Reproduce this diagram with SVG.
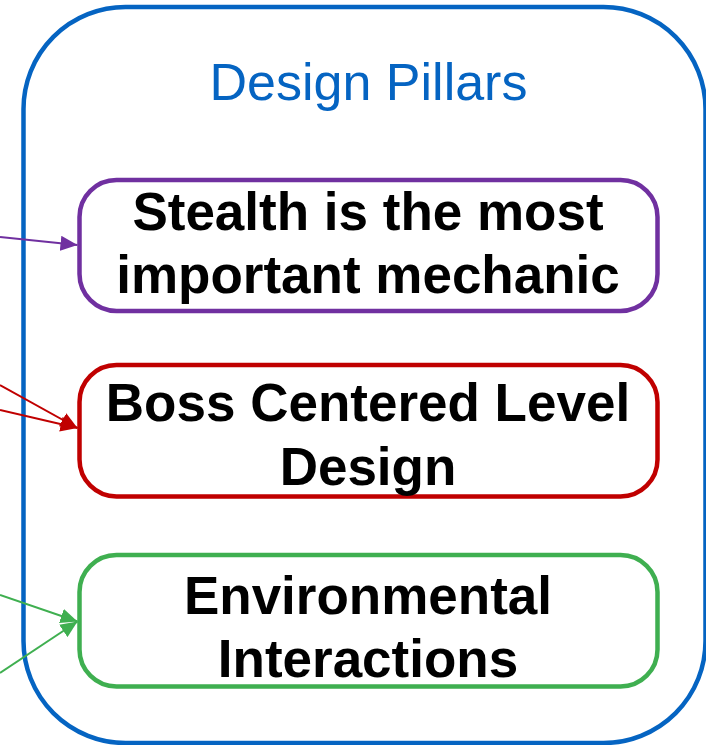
<svg xmlns="http://www.w3.org/2000/svg" width="706" height="745" viewBox="0 0 706 745">
  <style>
    .frame { fill: none; stroke: #0564C2; stroke-width: 4.5; }
    .title { font-family: "Liberation Sans", Arial, sans-serif; font-size: 52px; fill: #0564C2; text-anchor: middle; }
    .box { fill: #FFFFFF; stroke-width: 4.5; }
    .label { font-family: "Liberation Sans", Arial, sans-serif; font-size: 53px; font-weight: bold; fill: #000000; text-anchor: middle; }
    .link { fill: none; stroke-width: 2; }
  </style>
  <defs>
    <marker id="head-purple" markerUnits="userSpaceOnUse" markerWidth="17" markerHeight="15" refX="17" refY="7.5" orient="auto">
      <path d="M0,0 L17,7.5 L0,15 z" fill="#7030A0"/>
    </marker>
    <marker id="head-red" markerUnits="userSpaceOnUse" markerWidth="17" markerHeight="15" refX="17" refY="7.5" orient="auto">
      <path d="M0,0 L17,7.5 L0,15 z" fill="#C00000"/>
    </marker>
    <marker id="head-green" markerUnits="userSpaceOnUse" markerWidth="17" markerHeight="15" refX="17" refY="7.5" orient="auto">
      <path d="M0,0 L17,7.5 L0,15 z" fill="#3FAF50"/>
    </marker>
  </defs>

  <rect width="706" height="745" fill="#FFFFFF"/>

  <!-- container -->
  <g id="design-pillars">
    <rect class="frame" x="23.5" y="7" width="682" height="736" rx="102" ry="102"/>
    <text class="title" x="368.5" y="100">Design Pillars</text>
  </g>

  <!-- incoming connectors -->
  <g id="connectors">
    <line class="link" stroke="#7030A0" x1="0" y1="237" x2="77.5" y2="245" marker-end="url(#head-purple)"/>
    <line class="link" stroke="#C00000" x1="0" y1="385" x2="77.5" y2="428" marker-end="url(#head-red)"/>
    <line class="link" stroke="#C00000" x1="0" y1="410" x2="77.5" y2="428" marker-end="url(#head-red)"/>
    <line class="link" stroke="#3FAF50" x1="0" y1="595" x2="77.5" y2="621.5" marker-end="url(#head-green)"/>
    <line class="link" stroke="#3FAF50" x1="0" y1="673" x2="77.5" y2="621.5" marker-end="url(#head-green)"/>
  </g>

  <g id="pillar-stealth">
    <rect class="box" stroke="#7030A0" x="79.5" y="180" width="578" height="131" rx="37" ry="37"/>
    <text class="label" x="368" y="230">Stealth is the most</text>
    <text class="label" x="368" y="293">important mechanic</text>
  </g>

  <g id="pillar-boss">
    <rect class="box" stroke="#C00000" x="79.5" y="365" width="578" height="131.5" rx="37" ry="37"/>
    <text class="label" x="368" y="421">Boss Centered Level</text>
    <text class="label" x="368" y="485">Design</text>
  </g>

  <g id="pillar-environment">
    <rect class="box" stroke="#3FAF50" x="79.5" y="555" width="578" height="131.5" rx="37" ry="37"/>
    <text class="label" x="368" y="614">Environmental</text>
    <text class="label" x="368" y="677">Interactions</text>
  </g>
</svg>
